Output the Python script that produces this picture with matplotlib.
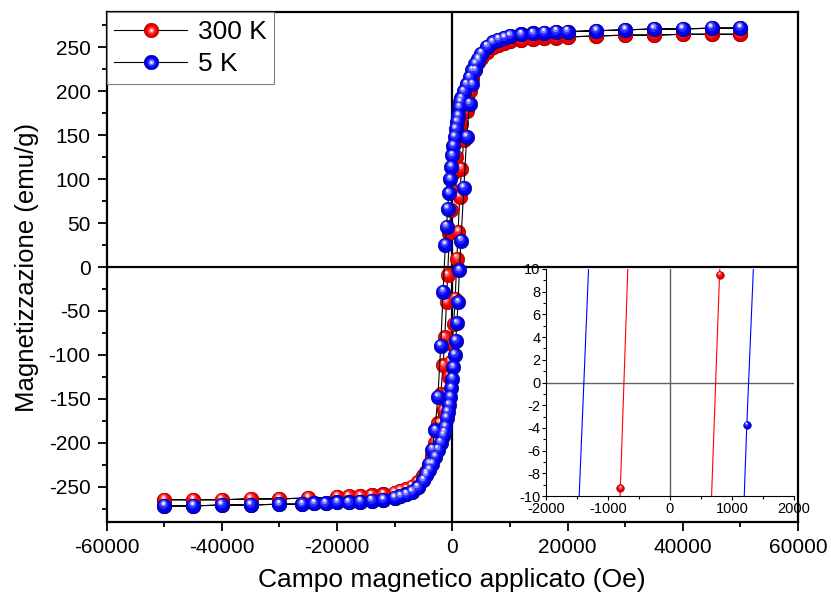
import matplotlib
matplotlib.use('Agg')
import matplotlib.pyplot as plt
import matplotlib.transforms as mtransforms
from matplotlib.lines import Line2D
from matplotlib.legend_handler import HandlerTuple
import numpy as np

plt.rcParams['font.family'] = ['Liberation Sans', 'DejaVu Sans']
plt.rcParams['axes.unicode_minus'] = False

# 300 K loop (red)
h_300_down = [50000, 45000, 40000, 35000, 30000, 25000, 20000, 18000, 16000, 14000, 12000,
              10000, 9000, 8000, 7000, 6000, 5000, 4500, 4000, 3500, 3000, 2500, 2000, 1500,
              1000, 600, 300, 0, -250, -500, -800, -1000, -1300, -1600, -2000, -2500, -3000,
              -3500, -4000, -4500, -5000, -6000, -7000, -8000, -9000, -10000, -12000, -14000,
              -16000, -18000, -20000, -25000, -30000, -35000, -40000, -45000, -50000]
m_300_down = [265, 265, 265, 264, 264, 263, 262, 261, 261, 260, 259,
              257, 255, 253, 250, 245, 238, 233, 226, 216, 205, 192, 178, 163,
              145, 125, 108, 88, 65, 39, -9.3, -40, -80, -112, -145, -178, -200,
              -215, -226, -233, -238, -245, -250, -253, -255, -257, -259, -260,
              -261, -262, -262, -263, -264, -264, -265, -265, -265]
h_300_up = [-50000, -45000, -40000, -35000, -30000, -25000, -20000, -18000, -16000, -14000,
            -12000, -10000, -9000, -8000, -7000, -6000, -5000, -4500, -4000, -3500, -3000,
            -2500, -2000, -1500, -1000, -600, -300, 0, 250, 500, 800, 1000, 1300, 1600, 2000,
            2500, 3000, 3500, 4000, 4500, 5000, 6000, 7000, 8000, 9000, 10000, 12000, 14000,
            16000, 18000, 20000, 25000, 30000, 35000, 40000, 45000, 50000]
m_300_up = [-265, -265, -265, -264, -264, -263, -262, -261, -261, -260,
            -259, -257, -255, -253, -250, -245, -238, -233, -226, -216, -205,
            -192, -178, -163, -145, -125, -108, -88, -65, -36, 9.5, 40, 80, 112, 145,
            178, 200, 215, 226, 233, 238, 245, 250, 253, 255, 257, 259, 260,
            261, 262, 262, 263, 264, 264, 265, 265, 265]

# 5 K loop (blue)
h_5_down = [50000, 45000, 40000, 35000, 30000, 25000, 20000, 18000, 16000, 14000, 12000,
            10000, 9000, 8000, 7000, 6000, 5000, 4500, 4000, 3500, 3000, 2500, 2000, 1600,
            1400, 1200, 1000, 800, 600, 400, 200, 0, -200, -400, -600, -800, -1000, -1200,
            -1600, -2000, -2500, -3000, -3500, -4000, -4500, -5000, -6000, -7000, -8000,
            -9000, -10000, -12000, -14000, -16000, -18000, -20000, -22000, -24000, -26000,
            -30000, -35000, -40000, -45000, -50000]
m_5_down = [272, 272, 271, 271, 270, 269, 268, 268, 267, 266, 265,
            263, 261, 259, 256, 251, 243, 237, 231, 224, 216, 208, 200, 192,
            188, 182, 172, 165, 157, 148, 138, 127, 114, 100, 84, 66, 46, 25,
            -28, -90, -148, -186, -208, -224, -235, -243, -251, -256, -259,
            -261, -263, -265, -266, -267, -268, -268, -269, -269, -270,
            -270, -271, -271, -272, -272]
h_5_up = [-50000, -45000, -40000, -35000, -30000, -26000, -24000, -22000, -20000, -18000,
          -16000, -14000, -12000, -10000, -9000, -8000, -7000, -6000, -5000, -4500, -4000,
          -3500, -3000, -2500, -2000, -1600, -1400, -1200, -1000, -800, -600, -400, -200, 0,
          200, 400, 600, 800, 1000, 1240, 1500, 2000, 2500, 3000, 3500, 4000, 4500, 5000,
          6000, 7000, 8000, 9000, 10000, 12000, 14000, 16000, 18000, 20000, 25000, 30000,
          35000, 40000, 45000, 50000]
m_5_up = [-272, -272, -271, -271, -270, -270, -269, -269, -268, -268,
          -267, -266, -265, -263, -261, -259, -256, -251, -243, -237, -231,
          -224, -216, -208, -200, -192, -188, -182, -172, -165, -157, -148, -138, -127,
          -114, -100, -84, -64, -40, -3.7, 30, 90, 148, 186, 208, 224, 235, 243,
          251, 256, 259, 261, 263, 265, 266, 267, 268, 268, 269, 270,
          271, 271, 272, 272]

labels = ['300 K', '5 K']

# shading layers for the "sphere" markers: (size factor, dx, dy, colour)
red = dict(base='#d80000', edge='#900000',
           layers=[(0.82, -0.04, 0.06, '#f20000'), (0.6, -0.07, 0.12, '#ff2020'),
                   (0.38, -0.09, 0.18, '#ff7070'), (0.18, -0.1, 0.22, '#ffe8e8')])
blue = dict(base='#0000d8', edge='#000078',
            layers=[(0.82, -0.04, 0.06, '#0000f4'), (0.6, -0.07, 0.12, '#2828ff'),
                    (0.38, -0.09, 0.18, '#8080ff'), (0.18, -0.1, 0.22, '#f0f0ff')])

fig = plt.figure(figsize=(8.31, 6.03), dpi=100)
ax = fig.add_axes([0.1282, 0.1348, 0.8321, 0.8448])


def balls(a, x, y, c, ms, zo):
    a.plot(x, y, ls='none', marker='o', ms=ms, mfc=c['base'], mec=c['edge'], mew=0.4, zorder=zo)
    for f, dx, dy, col in c['layers']:
        t = mtransforms.offset_copy(a.transData, fig=fig, x=dx * ms, y=dy * ms, units='points')
        a.plot(x, y, ls='none', marker='o', ms=ms * f, mfc=col, mec='none', zorder=zo,
               transform=t)


x300 = h_300_down + h_300_up
y300 = m_300_down + m_300_up
x5 = h_5_down + h_5_up
y5 = m_5_down + m_5_up

ax.axhline(0, color='k', lw=1.6, zorder=1)
ax.axvline(0, color='k', lw=1.6, zorder=1)

ax.plot(x300, y300, color='k', lw=0.8, zorder=2)
balls(ax, x300, y300, red, 10.5, 3)
ax.plot(x5, y5, color='k', lw=0.8, zorder=4)
balls(ax, x5, y5, blue, 10.5, 5)

ax.set_xlim(-60000, 60000)
ax.set_ylim(-290, 290)
ax.set_xticks(np.arange(-60000, 60001, 20000))
ax.set_xticks(np.arange(-60000, 60001, 10000), minor=True)
ax.set_yticks(np.arange(-250, 251, 50))
ax.set_yticks(np.arange(-275, 276, 25), minor=True)
ax.tick_params(which='both', direction='out', top=False, right=False, labelsize=15, width=1.3)
ax.tick_params(which='major', length=6.5, pad=5)
ax.tick_params(which='minor', length=3.6)
for s in ax.spines.values():
    s.set_linewidth(1.6)
ax.set_xlabel('Campo magnetico applicato (Oe)', fontsize=19, labelpad=8)
ax.set_ylabel('Magnetizzazione (emu/g)', fontsize=18.5, labelpad=7)

handles = []
for c in (red, blue):
    hs = [Line2D([], [], color='k', lw=0.8, marker='o', ms=10.5, mfc=c['base'],
                 mec=c['edge'], mew=0.4)]
    for f, dx, dy, col in c['layers']:
        hs.append(Line2D([], [], ls='none', marker='o', ms=10.5 * f, mfc=col, mec='none'))
    handles.append(tuple(hs))
leg = ax.legend(handles, labels, loc='upper left', borderaxespad=0, fontsize=19,
                handler_map={tuple: HandlerTuple(ndivide=1)}, numpoints=1,
                handlelength=2.75, handletextpad=0.4, borderpad=0.3, labelspacing=0.3,
                fancybox=False, framealpha=1, edgecolor='#808080')
leg.get_frame().set_linewidth(0.8)
leg.set_zorder(10)

# inset
ins = fig.add_axes([0.657, 0.1774, 0.2984, 0.3765])
ins.axhline(0, color='#606060', lw=1, zorder=1)
ins.axvline(0, color='#606060', lw=1, zorder=1)
ins.plot(x300, y300, color='red', lw=0.8, zorder=2)
balls(ins, x300, y300, red, 5.5, 3)
ins.plot(x5, y5, color='blue', lw=0.8, zorder=4)
balls(ins, x5, y5, blue, 5.5, 5)
ins.set_xlim(-2000, 2000)
ins.set_ylim(-10, 10)
ins.set_xticks(np.arange(-2000, 2001, 1000))
ins.set_xticks(np.arange(-2000, 2001, 500), minor=True)
ins.set_yticks(np.arange(-10, 11, 2))
ins.set_yticks(np.arange(-10, 11, 1), minor=True)
ins.spines['top'].set_visible(False)
ins.spines['right'].set_visible(False)
ins.tick_params(which='both', direction='out', labelsize=10.5, width=0.8)
ins.tick_params(axis='x', pad=1.5)
ins.tick_params(axis='y', pad=1)
ins.tick_params(which='major', length=3)
ins.tick_params(which='minor', length=2)

plt.savefig('out.png', dpi=100)
